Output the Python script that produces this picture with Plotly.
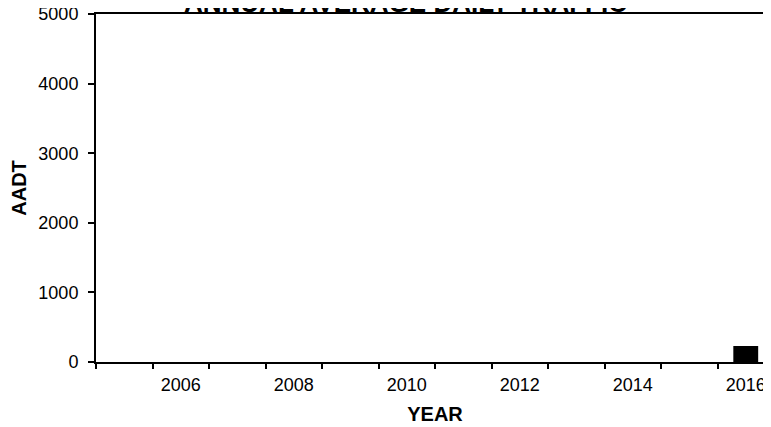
import plotly.graph_objects as go

# Data
years = [2016]
aadt = [230]
tick_years = [2006, 2008, 2010, 2012, 2014, 2016]
tick_labels = [str(y) for y in tick_years]
y_ticks = [0, 1000, 2000, 3000, 4000, 5000]
title_text = "ANNUAL AVERAGE DAILY TRAFFIC"

FONT = "Liberation Sans, Arial, sans-serif"

fig = go.Figure(
    go.Bar(
        x=years,
        y=aadt,
        width=0.44,
        marker=dict(color="black", line=dict(width=0)),
    )
)

fig.update_layout(
    width=771,
    height=427,
    margin=dict(l=88, r=5, t=6, b=73),
    paper_bgcolor="white",
    plot_bgcolor="white",
    showlegend=False,
    font=dict(family=FONT, color="black"),
    annotations=[
        dict(
            text="<b>" + title_text + "</b>",
            font=dict(family=FONT, size=26, color="black"),
            xref="paper",
            yref="paper",
            x=0.4558,
            y=1.0316,
            xanchor="center",
            yanchor="middle",
            showarrow=False,
        )
    ],
)

fig.update_xaxes(
    range=[2004.5, 2016.5],
    automargin=False,
    tickmode="array",
    tickvals=tick_years,
    ticktext=tick_labels,
    ticks="",
    ticklabelstandoff=5,
    tickfont=dict(family=FONT, size=18, color="black"),
    showline=True,
    linecolor="black",
    linewidth=2,
    mirror=True,
    showgrid=False,
    zeroline=False,
    minor=dict(
        ticks="outside",
        tick0=2004.5,
        dtick=1,
        ticklen=5,
        tickwidth=2,
        tickcolor="black",
        showgrid=False,
    ),
    title=dict(
        text="<b>YEAR</b>",
        font=dict(family=FONT, size=20, color="black"),
        standoff=13,
    ),
)

fig.update_yaxes(
    range=[0, 5000],
    automargin=False,
    tickmode="array",
    tickvals=y_ticks,
    ticks="outside",
    ticklen=6,
    tickwidth=2,
    tickcolor="black",
    ticklabelstandoff=6,
    ticklabeloverflow="allow",
    tickfont=dict(family=FONT, size=18, color="black"),
    showline=True,
    linecolor="black",
    linewidth=2,
    showgrid=False,
    zeroline=False,
    title=dict(
        text="<b>AADT</b>",
        font=dict(family=FONT, size=20, color="black"),
        standoff=9,
    ),
)

fig.write_html("out.html")
